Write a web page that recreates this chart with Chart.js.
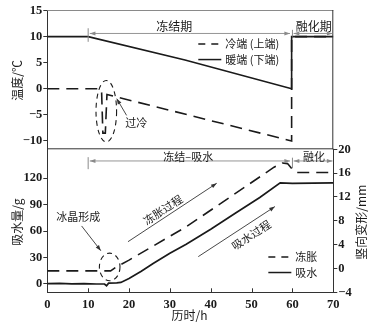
<!DOCTYPE html>
<html>
<head>
<meta charset="utf-8">
<script src="https://cdn.jsdelivr.net/npm/chart.js@4.4.0/dist/chart.umd.min.js"></script>
<style>
  html, body { margin: 0; padding: 0; background: #fff; }
  #wrap { position: relative; width: 370px; height: 329px; }
  #wrap canvas { position: absolute; left: 0; top: 0; }
</style>
</head>
<body>
<div id="wrap">
  <canvas id="cTemp" width="370" height="329" style="width:370px;height:329px"></canvas>
  <canvas id="cWater" width="370" height="329" style="width:370px;height:329px"></canvas>
</div>
<script>
/* Datos del panel superior: temperatura (°C) contra tiempo (h) */
const coldHours = [0, 13, 13.3, 13.6, 14.2, 14.6, 59.8, 59.8, 70];
const coldTemp  = [0, 0, -0.8, -8.5, -8.5, -1.1, -10, 10, 10];
const warmHours = [0, 10, 33.7, 59.8, 59.8, 70];
const warmTemp  = [10, 10, 5.5, 0, 10, 10];

/* Datos del panel inferior */
const waterHours = [0, 3, 6, 9, 12, 14, 14.5, 15, 17, 18, 20, 23, 26, 30, 34, 40, 46, 52, 57, 60, 65, 70];
const waterMass  = [0.5, 0.8, 0.2, 0.4, 0, 0, -2, 1, 1.2, 1.8, 6.2, 14.5, 23.4, 34.8, 45, 62, 80, 98, 114.5, 114, 114.3, 114.5];
const deformHours = [0, 15.5, 17, 20, 34, 45, 55.5, 57.5, 58.8, 60, 61, 70];
const deformMm    = [-0.4, -0.4, 0.3, 1.4, 7.0, 12.1, 17.0, 17.7, 17.6, 16.6, 16.1, 16.1];

/* Marcas de los ejes */
const timeTicks  = [0, 10, 20, 30, 40, 50, 60, 70];
const tempTicks  = [-10, -5, 0, 5, 10, 15];
const massTicks  = [0, 30, 60, 90, 120];
const deformTicks = [-4, 0, 4, 8, 12, 16, 20];

const serif = 'Liberation Serif';
const cjk = '"Noto Sans CJK SC", sans-serif';
const ink = '#1a1a1a';
const grey = '#8a8a8a';
const tickFont = { family: serif, size: 12.5, weight: 'bold' };

const toXY = (xs, ys) => xs.map((x, i) => ({ x, y: ys[i] }));
const fmt = v => String(v).replace('-', '\u2212');

function arrowHead(ctx, x1, y1, x2, y2, size) {
  const a = Math.atan2(y2 - y1, x2 - x1);
  ctx.beginPath();
  ctx.moveTo(x2, y2);
  ctx.lineTo(x2 - size * Math.cos(a - 0.35), y2 - size * Math.sin(a - 0.35));
  ctx.lineTo(x2 - size * Math.cos(a + 0.35), y2 - size * Math.sin(a + 0.35));
  ctx.closePath();
  ctx.fill();
}

function arrow(ctx, x1, y1, x2, y2, color) {
  ctx.save();
  ctx.strokeStyle = color; ctx.fillStyle = color; ctx.lineWidth = 0.9;
  ctx.beginPath(); ctx.moveTo(x1, y1); ctx.lineTo(x2, y2); ctx.stroke();
  arrowHead(ctx, x1, y1, x2, y2, 6);
  ctx.restore();
}

function text(ctx, str, x, y, size, opts = {}) {
  ctx.save();
  ctx.font = `${size}px ${opts.family || cjk}`;
  ctx.fillStyle = opts.color || ink;
  ctx.textAlign = opts.align || 'center';
  ctx.textBaseline = 'middle';
  ctx.translate(x, y);
  if (opts.rot) ctx.rotate(opts.rot);
  ctx.fillText(str, 0, 0);
  ctx.restore();
}

function ellipse(ctx, cx, cy, rx, ry) {
  ctx.save();
  ctx.strokeStyle = ink; ctx.lineWidth = 1.1; ctx.setLineDash([5, 4]);
  ctx.beginPath(); ctx.ellipse(cx, cy, rx, ry, 0, 0, Math.PI * 2); ctx.stroke();
  ctx.restore();
}

function legendRow(ctx, x, y, dash, label) {
  ctx.save();
  ctx.strokeStyle = ink; ctx.lineWidth = 1.5;
  ctx.setLineDash(dash);
  ctx.beginPath(); ctx.moveTo(x, y); ctx.lineTo(x + 23, y); ctx.stroke();
  ctx.restore();
  text(ctx, label, x + 27, y, 11, { align: 'left' });
}

function yAxis(ticks, min, max, pos, width, extra = {}) {
  return Object.assign({
    type: 'linear', position: pos, min, max,
    afterFit: s => { s.width = width; s.paddingTop = 0; s.paddingBottom = 0; },
    afterBuildTicks: s => { s.ticks = ticks.map(v => ({ value: v })); },
    grid: { drawOnChartArea: false, drawTicks: true, tickLength: 4, color: '#333' },
    border: { display: true, color: '#333', width: 1 },
    ticks: { font: tickFont, color: ink, padding: 1, callback: v => fmt(v) }
  }, extra);
}

/* Panel superior */
const tempAnnot = {
  id: 'tempAnnot',
  afterDraw(chart) {
    const { ctx, chartArea: ca, scales: { x, y } } = chart;
    const px = h => x.getPixelForValue(h), py = v => y.getPixelForValue(v);
    ctx.save();
    ctx.lineWidth = 1;
    ctx.strokeStyle = grey;
    ctx.beginPath(); ctx.moveTo(ca.left, ca.top + 0.5); ctx.lineTo(ca.right, ca.top + 0.5); ctx.stroke();
    ctx.strokeStyle = '#333';
    ctx.beginPath();
    ctx.moveTo(ca.right - 0.5, ca.top); ctx.lineTo(ca.right - 0.5, ca.bottom);
    ctx.moveTo(ca.left, ca.bottom - 0.5); ctx.lineTo(ca.right, ca.bottom - 0.5);
    ctx.stroke();
    ctx.restore();

    /* flechas de periodos */
    const yA = py(10.6);
    ctx.save();
    ctx.strokeStyle = grey; ctx.lineWidth = 1;
    ctx.beginPath();
    ctx.moveTo(px(10), py(11.6)); ctx.lineTo(px(10), py(9));
    ctx.moveTo(px(60), py(11.3)); ctx.lineTo(px(60), py(10));
    ctx.stroke();
    ctx.restore();
    arrow(ctx, px(35), yA, px(10.4), yA, grey);
    arrow(ctx, px(35), yA, px(59.4), yA, grey);
    arrow(ctx, px(65), yA, px(60.3), yA, grey);
    arrow(ctx, px(65), yA, px(69.8), yA, grey);
    text(ctx, '冻结期', px(31.1), py(12), 12);
    text(ctx, '融化期', px(65.2), py(12), 12);

    /* leyenda */
    legendRow(ctx, ca.right - 135, py(8.6), [7, 6], '冷端 (上端)');
    legendRow(ctx, ca.right - 135, py(5.6), [], '暖端 (下端)');

    /* sobreenfriamiento */
    const cx = px(14.44), cy = py(-4.3);
    ellipse(ctx, cx, cy, px(14.44 + 2.52) - cx, py(-4.3 - 5.9) - cy);
    arrow(ctx, px(19.4), py(-5.1), px(17.0), py(-1.9), '#333');
    text(ctx, '过冷', px(21.8), py(-6.5), 11);

    text(ctx, '温度/℃', 17, py(1.6), 12, { rot: -Math.PI / 2 });
  }
};

new Chart(document.getElementById('cTemp'), {
  type: 'line',
  data: {
    datasets: [
      { label: '冷端 (上端)', data: toXY(coldHours, coldTemp), borderColor: ink, borderWidth: 1.6, borderDash: [12, 7], pointRadius: 0, tension: 0 },
      { label: '暖端 (下端)', data: toXY(warmHours, warmTemp), borderColor: ink, borderWidth: 1.6, pointRadius: 0, tension: 0 }
    ]
  },
  options: {
    responsive: false,
    animation: false,
    layout: { padding: { left: 0, right: 36.7, top: 10, bottom: 179.7 } },
    plugins: { legend: { display: false }, tooltip: { enabled: false } },
    scales: {
      x: { type: 'linear', min: 0, max: 70, display: false },
      y: yAxis(tempTicks, -11.6, 15.1, 'left', 47.3)
    }
  },
  plugins: [tempAnnot]
});

/* Panel inferior */
const waterAnnot = {
  id: 'waterAnnot',
  afterDraw(chart) {
    const { ctx, chartArea: ca, scales: { x, y } } = chart;
    const px = h => x.getPixelForValue(h), py = v => y.getPixelForValue(v);

    /* marcas del eje x hacia adentro */
    ctx.save();
    ctx.strokeStyle = '#333'; ctx.lineWidth = 1;
    ctx.beginPath();
    timeTicks.slice(1, -1).forEach(t => {
      const xx = Math.round(px(t)) + 0.5;
      ctx.moveTo(xx, ca.bottom); ctx.lineTo(xx, ca.bottom - 4);
    });
    ctx.stroke();
    ctx.restore();

    /* periodos */
    const yA = py(139.3);
    ctx.save();
    ctx.strokeStyle = grey; ctx.lineWidth = 1;
    ctx.beginPath();
    ctx.moveTo(px(10), py(143.6)); ctx.lineTo(px(10), py(130));
    ctx.moveTo(px(60), py(143)); ctx.lineTo(px(60), py(131));
    ctx.stroke();
    ctx.restore();
    arrow(ctx, px(35), yA, px(10.4), yA, grey);
    arrow(ctx, px(35), yA, px(59.4), yA, grey);
    arrow(ctx, px(65), yA, px(60.3), yA, grey);
    arrow(ctx, px(65), yA, px(69.8), yA, grey);
    text(ctx, '冻结–吸水', px(34.5), py(144), 11);
    text(ctx, '融化', px(65.3), py(144), 11);

    /* formación de cristales */
    const cx = px(15.27), cy = py(19.3);
    ellipse(ctx, cx, cy, px(15.27 + 2.52) - cx, py(19.3 - 15.6) - cy);
    text(ctx, '冰晶形成', px(7.6), py(76), 11);
    arrow(ctx, px(8.4), py(65.7), px(13.1), py(37.7), '#333');

    /* procesos */
    const proc = (h1, g1, h2, g2, label, th, tg) => {
      arrow(ctx, px(h1), py(g1), px(h2), py(g2), '#333');
      const ang = Math.atan2(py(g2) - py(g1), px(h2) - px(h1));
      text(ctx, label, px(th), py(tg), 11, { rot: ang });
    };
    proc(19.75, 47.9, 41.46, 114, '冻胀过程', 28.3, 84);
    proc(36.95, 31.0, 55.7, 87.6, '吸水过程', 49.9, 55.6);

    /* leyenda */
    legendRow(ctx, px(54.1), py(30.5), [7, 6], '冻胀');
    legendRow(ctx, px(54.1), py(13), [], '吸水');

    text(ctx, '吸水量/g', 17, py(70), 12, { rot: -Math.PI / 2 });
    text(ctx, '竖向变形/mm', 361, py(70), 12, { rot: -Math.PI / 2 });
    text(ctx, '历时/h', px(34.8), 315, 12);
  }
};

new Chart(document.getElementById('cWater'), {
  type: 'line',
  data: {
    datasets: [
      { label: '冻胀', data: toXY(deformHours, deformMm), yAxisID: 'y2', borderColor: ink, borderWidth: 1.6, borderDash: [12, 7], pointRadius: 0, tension: 0 },
      { label: '吸水', data: toXY(waterHours, waterMass), yAxisID: 'y', borderColor: ink, borderWidth: 1.7, pointRadius: 0, tension: 0 }
    ]
  },
  options: {
    responsive: false,
    animation: false,
    layout: { padding: { left: 0, right: 0, top: 149.3, bottom: 0 } },
    plugins: { legend: { display: false }, tooltip: { enabled: false } },
    scales: {
      x: {
        type: 'linear', min: 0, max: 70,
        afterFit: s => { s.height = 36.7; s.paddingLeft = 0; s.paddingRight = 0; },
        afterBuildTicks: s => { s.ticks = timeTicks.map(v => ({ value: v })); },
        grid: { display: false },
        border: { display: true, color: '#333', width: 1 },
        ticks: { font: tickFont, color: ink, padding: -3, maxRotation: 0 }
      },
      y: yAxis(massTicks, -9.4, 152.5, 'left', 47.3),
      y2: yAxis(deformTicks, -4, 20, 'right', 36.7)
    }
  },
  plugins: [waterAnnot]
});
</script>
</body>
</html>
